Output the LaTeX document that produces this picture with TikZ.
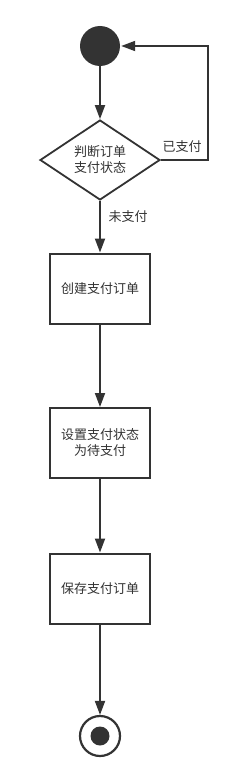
\documentclass[tikz,border=0pt]{standalone}
\usepackage{fontspec}
\setmainfont{Noto Sans CJK SC}
\usetikzlibrary{arrows.meta,shapes.geometric}
\definecolor{ink}{HTML}{333333}
\begin{document}
\begin{tikzpicture}[x=1pt,y=-1pt,
  every node/.style={text=ink,font=\fontsize{13}{16}\selectfont},
  flow/.style={draw=ink,line width=1.8pt,-{Triangle[length=14pt,width=10pt]}},
  actbox/.style={draw=ink,line width=2pt,minimum width=100pt,minimum height=70pt,inner sep=0pt,align=center},
  decide/.style={diamond,draw=ink,line width=1.8pt,minimum width=120pt,minimum height=80pt,inner sep=0pt,aspect=1.5,align=center},
  lbl/.style={inner sep=0pt}]
\useasboundingbox[fill=white] (0,0) rectangle (240,784);
\node[circle,fill=ink,minimum size=40pt,inner sep=0pt] (start) at (100,46) {};
\node[decide] (dec) at (100,160) {判断订单\\支付状态};
\node[actbox] (create) at (100,288.5) {创建支付订单};
\node[actbox] (setst) at (100,443) {设置支付状态\\为待支付};
\node[actbox] (save) at (100,588.5) {保存支付订单};
\node[circle,draw=ink,line width=2.2pt,minimum size=40pt,inner sep=0pt] (end) at (100,736) {};
\node[circle,fill=ink,minimum size=19pt,inner sep=0pt] (endin) at (100,736) {};
\coordinate (c1) at (208,160);
\coordinate (c2) at (208,46);
\draw[flow] (start) -- (dec);
\draw[flow,shorten >=1pt] (dec.east) -- (c1) -- (c2) -- (start);
\draw[flow] (dec) -- (create);
\draw[flow] (create) -- (setst);
\draw[flow] (setst) -- (save);
\draw[flow] (save) -- (end);
\node[lbl] (paid) at (182,147) {已支付};
\node[lbl] (unpaid) at (128,217) {未支付};
\end{tikzpicture}
\end{document}
